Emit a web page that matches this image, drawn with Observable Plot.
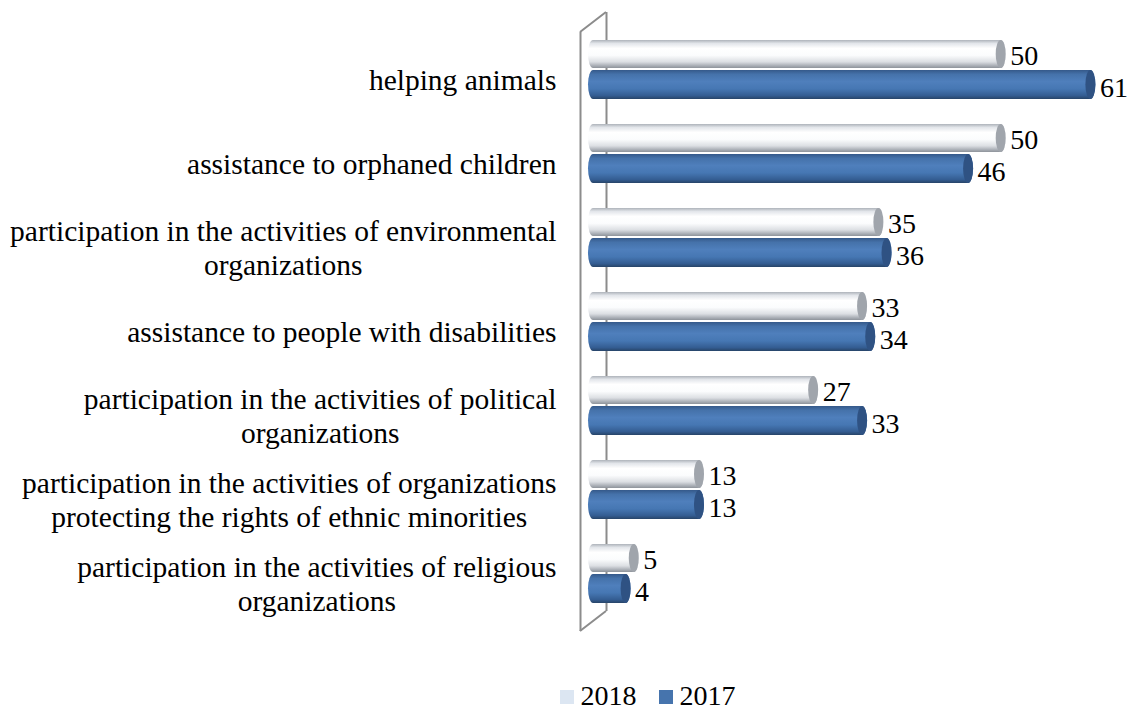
<!DOCTYPE html>
<html>
<head>
<meta charset="utf-8">
<script src="https://cdn.jsdelivr.net/npm/d3@7"></script>
<script src="https://cdn.jsdelivr.net/npm/@observablehq/plot@0.6"></script>
<style>
  html, body { margin: 0; padding: 0; background: #fff; }
  #chart { width: 1133px; }
  #legend { display: flex; justify-content: center; align-items: center; margin-top: 30px; padding-left: 162px;
    font-family: 'Liberation Serif', 'Times New Roman', serif; font-size: 28px; color: #000; line-height: 32px; }
  .sw { display: inline-block; width: 14px; height: 14px; margin-right: 7px; margin-top: 2px; }
  .item { display: flex; align-items: center; margin: 0 11px; }
</style>
</head>
<body>
<div id="chart"></div>
<div id="legend"></div>
<script>
const categories = [
  "helping animals",
  "assistance to orphaned children",
  "participation in the activities of environmental\norganizations",
  "assistance to people with disabilities",
  "participation in the activities of political\norganizations",
  "participation in the activities of organizations\nprotecting the rights of ethnic minorities",
  "participation in the activities of religious\norganizations"
];
const values2018 = [50, 50, 35, 33, 27, 13, 5];
const values2017 = [61, 46, 36, 34, 33, 13, 4];
const seriesNames = ["2018", "2017"];
const legendColors = ["#dce6f2", "#4674ad"];

const d18 = categories.map((c, i) => ({cat: c, v: values2018[i]}));
const d17 = categories.map((c, i) => ({cat: c, v: values2017[i]}));

const serif = "'Liberation Serif', 'Times New Roman', serif";
const half = 30;
const mTop = 12, mBottom = 19, H = 650;

const chart = Plot.plot({
  width: 1133,
  height: H,
  marginLeft: 593,
  marginRight: 10,
  marginTop: mTop,
  marginBottom: mBottom,
  style: {fontFamily: serif, fontSize: "28px", color: "#000", background: "#fff"},
  x: {domain: [0, 65], axis: null},
  y: {domain: categories, padding: 0.293, axis: null},
  marks: [
    Plot.ruleX([0], {dx: 13, insetBottom: 20, stroke: "#8c8c8c", strokeWidth: 2}),
    Plot.ruleX([0], {dx: -13, insetTop: 20, stroke: "#8c8c8c", strokeWidth: 2}),
    Plot.barX(d18, {y: "cat", x1: 0, x2: "v", insetBottom: half + 1, insetLeft: -5, insetRight: -5, rx: 5, ry: 15, fill: "url(#g18)"}),
    Plot.barX(d18, {y: "cat", x1: "v", x2: "v", insetBottom: half + 1, insetLeft: -5, insetRight: -5, rx: 5, ry: 15, fill: "#a0a5ac"}),
    Plot.barX(d17, {y: "cat", x1: 0, x2: "v", insetTop: half, insetLeft: -5, insetRight: -5, rx: 5, ry: 15, fill: "url(#g17)"}),
    Plot.barX(d17, {y: "cat", x1: "v", x2: "v", insetTop: half, insetLeft: -5, insetRight: -5, rx: 5, ry: 15, fill: "#2f5283"}),
    Plot.text(d18, {y: "cat", x: "v", text: d => String(d.v), dx: 9, dy: -14, textAnchor: "start", fill: "#000", fontSize: 28, fontFamily: serif}),
    Plot.text(d17, {y: "cat", x: "v", text: d => String(d.v), dx: 9, dy: 18, textAnchor: "start", fill: "#000", fontSize: 28, fontFamily: serif}),
    Plot.axisY({tickSize: 0, tickPadding: 37, dy: 9, fontSize: 29.5, lineHeight: 1.15, fontFamily: serif, fill: "#000", textAnchor: "end", label: null})
  ]
});

document.getElementById("chart").append(chart);

const svg = d3.select(chart.tagName.toLowerCase() === "svg" ? chart : chart.querySelector("svg"));
const defs = svg.insert("defs", ":first-child");
function grad(id, stops) {
  const g = defs.append("linearGradient").attr("id", id).attr("x1", 0).attr("y1", 0).attr("x2", 0).attr("y2", 1);
  stops.forEach(([o, c]) => g.append("stop").attr("offset", o).attr("stop-color", c));
}
grad("g18", [[0, "#aeb3ba"], [0.12, "#e2e5ea"], [0.3, "#ffffff"], [0.55, "#fbfcfd"], [0.78, "#dcdfe3"], [0.92, "#a9aeb5"], [1, "#8e939a"]]);
grad("g17", [[0, "#35598a"], [0.15, "#4572aa"], [0.4, "#4f7fbc"], [0.65, "#4677b3"], [0.88, "#345d92"], [1, "#274468"]]);

const xs = chart.scale("x");
const x0 = xs.apply(0);
const yTop = mTop, yBottom = H - mBottom;
svg.append("path")
  .attr("d", `M${x0 - 13},${yTop + 20}L${x0 + 13},${yTop}M${x0 - 13},${yBottom}L${x0 + 13},${yBottom - 20}`)
  .attr("stroke", "#8c8c8c").attr("stroke-width", 2).attr("fill", "none");

svg.selectAll("text").each(function() {
  const t = d3.select(this);
  const tspans = t.selectAll("tspan");
  if (tspans.size() > 1) {
    const bb = this.getBBox();
    const cx = bb.x + bb.width / 2;
    t.attr("text-anchor", "middle");
    tspans.attr("x", cx);
  }
});

const legend = d3.select("#legend");
seriesNames.forEach((s, i) => {
  const it = legend.append("div").attr("class", "item");
  it.append("span").attr("class", "sw").style("background", legendColors[i]);
  it.append("span").text(s);
});
</script>
</body>
</html>
